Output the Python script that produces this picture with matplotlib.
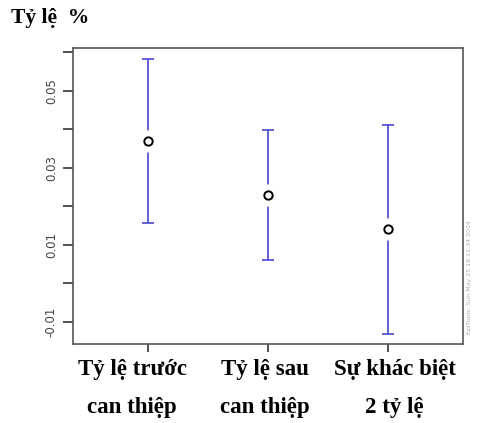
import matplotlib
matplotlib.use('Agg')
import matplotlib.pyplot as plt
from matplotlib.transforms import offset_copy

# values
groups = ['Tỷ lệ trước\ncan thiệp', 'Tỷ lệ sau\ncan thiệp', 'Sự khác biệt\n2 tỷ lệ']
estimate = [0.0370, 0.0229, 0.0140]
lower = [0.0157, 0.0060, -0.0132]
upper = [0.0582, 0.0398, 0.0411]

pos = [1, 2, 3]
err_lo = [e - l for e, l in zip(estimate, lower)]
err_hi = [u - e for e, u in zip(estimate, upper)]

fig = plt.figure(figsize=(4.87, 4.23), dpi=100)
ax = fig.add_axes([0.150, 0.1868, 0.801, 0.6998])

ax.errorbar(pos, estimate, yerr=[err_lo, err_hi], fmt='none',
            ecolor='#4a46d6', elinewidth=1.2, capsize=4, capthick=1.2, zorder=2)
# white disc to open a gap in the bar around each point
ax.plot(pos, estimate, 'o', ms=15, color='white', zorder=3)
ax.plot(pos, estimate, 'o', ms=6, mfc='white', mec='black', mew=1.4, zorder=4)

ax.set_xlim(0.38, 3.62)
ax.set_ylim(-0.0158, 0.0611)

yt = [-0.01, 0.0, 0.01, 0.02, 0.03, 0.04, 0.05, 0.06]
ax.set_yticks(yt)
ax.set_yticklabels(['-0.01', '', '0.01', '', '0.03', '', '0.05', ''],
                   rotation=90, va='center', fontsize=8.5, color='#444444')
ax.set_xticks(pos)
ax.set_xticklabels([])
ax.tick_params(axis='y', length=7, width=1.2, color='#333333', pad=4)
ax.tick_params(axis='x', length=6, width=1.2, color='#333333')
for s in ax.spines.values():
    s.set_color('#555555')
    s.set_linewidth(1.2)

# group labels sit a little off their ticks in the original
below = offset_copy(ax.get_xaxis_transform(), fig=fig, y=-15, units='dots')
shift = [-0.13, -0.03, 0.05]
for p, d, g in zip(pos, shift, groups):
    ax.text(p + d, 0, g, transform=below,
            family='Liberation Serif', fontweight='bold', fontsize=16.5,
            ha='center', va='top', linespacing=2.05)

fig.text(0.022, 0.957, 'Tỷ lệ  %', family='Liberation Serif', fontweight='bold',
         fontsize=15.5, ha='left', va='center')
fig.text(0.965, 0.21, 'EpiTools: Sun May 25 19:12:34 2014', rotation=90,
         fontsize=4.5, color='#aaaaaa', ha='center', va='bottom')

fig.savefig('out.png', dpi=100)
